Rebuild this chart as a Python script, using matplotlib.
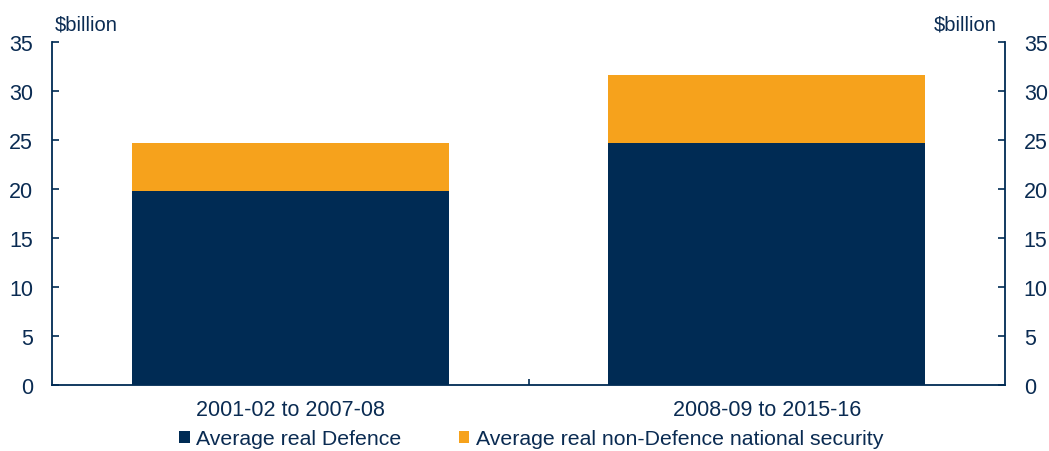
import matplotlib
matplotlib.use("Agg")
import matplotlib.pyplot as plt
from matplotlib.patches import Patch

plt.rcParams['font.family'] = ['Liberation Sans', 'DejaVu Sans']

categories = ["2001-02 to 2007-08", "2008-09 to 2015-16"]
defence = [19.8, 24.7]
non_defence = [4.9, 6.9]
series_names = ["Average real Defence", "Average real non-Defence national security"]
y_ticks = [0, 5, 10, 15, 20, 25, 30, 35]

NAVY = "#002B54"
ORANGE = "#F6A21C"
TEXT = "#0A2B52"

fig = plt.figure(figsize=(10.49, 4.52), dpi=100)
ax = fig.add_axes([52/1049, 1-386/452, (1005-52)/1049, (386-43)/452])

x = list(range(len(categories)))
ax.bar(x, defence, width=0.665, color=NAVY, linewidth=0)
ax.bar(x, non_defence, bottom=defence, width=0.665, color=ORANGE, linewidth=0)

ax.set_xlim(-0.5, 1.5)
ax.set_ylim(0, 35)

ax.spines['top'].set_visible(False)
for s in ['left', 'right', 'bottom']:
    ax.spines[s].set_color(NAVY)
    ax.spines[s].set_linewidth(1.3)

ax.set_yticks(y_ticks)
ax.set_yticklabels([str(v) for v in y_ticks])
ax.tick_params(axis='y', which='major', direction='in', length=5, width=1.2,
               color=NAVY, labelcolor=TEXT, labelsize=15.5, pad=13.5,
               left=True, right=True, labelleft=True, labelright=True)

ax.set_xticks([0.5])
ax.set_xticklabels([''])
ax.set_xticks(x, minor=True)
ax.set_xticklabels(categories, minor=True)
ax.tick_params(axis='x', which='major', direction='in', length=4, width=1.2, color=NAVY)
ax.tick_params(axis='x', which='minor', length=0, labelsize=15.5, labelcolor=TEXT, pad=10)

ax.text(3/953, 1.025, "$billion", transform=ax.transAxes, ha='left', va='bottom',
        fontsize=14.5, color=TEXT)
ax.text(1 - 8/953, 1.025, "$billion", transform=ax.transAxes, ha='right', va='bottom',
        fontsize=14.5, color=TEXT)

handles = [Patch(facecolor=NAVY, edgecolor='none'), Patch(facecolor=ORANGE, edgecolor='none')]
fig.legend(handles, series_names, loc='center', bbox_to_anchor=(531/1049, 1-440/452),
           ncol=2, frameon=False, fontsize=15.3, labelcolor=TEXT,
           handlelength=0.5, handleheight=0.5, handletextpad=0.3, columnspacing=2.7,
           borderpad=0, borderaxespad=0)

fig.savefig("out.png", dpi=100)
